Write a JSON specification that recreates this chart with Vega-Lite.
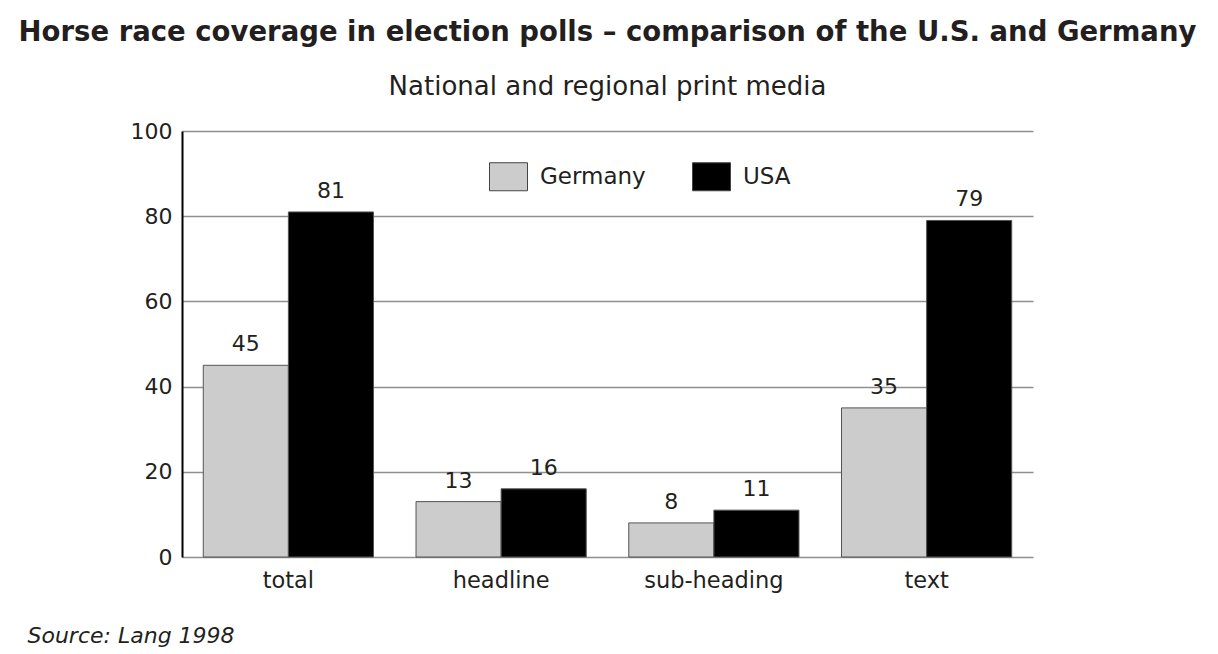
{
  "$schema": "https://vega.github.io/schema/vega-lite/v6.json",
  "width": 851,
  "height": 426,
  "autosize": {"type": "none"},
  "padding": {"left": 182, "top": 131, "right": 185, "bottom": 97},
  "background": "white",
  "title": {
    "text": "Horse race coverage in election polls – comparison of the U.S. and Germany",
    "subtitle": "National and regional print media",
    "anchor": "middle",
    "frame": "group",
    "font": "DejaVu Sans",
    "fontSize": 27.5,
    "fontWeight": "bold",
    "color": "#231f20",
    "subtitleFont": "DejaVu Sans",
    "subtitleFontSize": 26,
    "subtitleColor": "#231f20",
    "subtitlePadding": 28,
    "offset": 20
  },
  "data": {
    "values": [
      {"category": "total", "country": "Germany", "value": 45},
      {"category": "total", "country": "USA", "value": 81},
      {"category": "headline", "country": "Germany", "value": 13},
      {"category": "headline", "country": "USA", "value": 16},
      {"category": "sub-heading", "country": "Germany", "value": 8},
      {"category": "sub-heading", "country": "USA", "value": 11},
      {"category": "text", "country": "Germany", "value": 35},
      {"category": "text", "country": "USA", "value": 79}
    ]
  },
  "encoding": {
    "x": {
      "field": "category",
      "type": "nominal",
      "sort": ["total", "headline", "sub-heading", "text"],
      "scale": {"paddingInner": 0.2, "paddingOuter": 0.1},
      "axis": {
        "labelAngle": 0,
        "labelFont": "DejaVu Sans",
        "labelFontSize": 22.5,
        "labelColor": "#231f20",
        "labelPadding": 12,
        "ticks": false,
        "domain": false,
        "title": "Source: Lang 1998",
        "titleFont": "DejaVu Sans",
        "titleFontSize": 22,
        "titleFontStyle": "italic",
        "titleFontWeight": "normal",
        "titleColor": "#231f20",
        "titleAnchor": "start",
        "titleAlign": "left",
        "titleBaseline": "alphabetic",
        "titleX": -155,
        "titleY": 85
      }
    },
    "xOffset": {"field": "country", "type": "nominal", "sort": ["Germany", "USA"]},
    "y": {
      "field": "value",
      "type": "quantitative",
      "scale": {"domain": [0, 100], "nice": false},
      "axis": {
        "values": [0, 20, 40, 60, 80, 100],
        "title": null,
        "labelFont": "DejaVu Sans",
        "labelFontSize": 22,
        "labelColor": "#231f20",
        "labelPadding": 10,
        "ticks": false,
        "domainColor": "#000000",
        "domainWidth": 2,
        "grid": true,
        "gridColor": "#8f8f8f",
        "gridWidth": 1.5
      }
    }
  },
  "layer": [
    {
      "mark": {"type": "bar", "stroke": "#555555", "strokeWidth": 1},
      "encoding": {
        "color": {
          "field": "country",
          "type": "nominal",
          "scale": {"domain": ["Germany", "USA"], "range": ["#cccccc", "#000000"]},
          "legend": {
            "title": null,
            "orient": "none",
            "legendX": 307,
            "legendY": 26,
            "direction": "horizontal",
            "symbolType": "M-1,-0.737H1V0.737H-1Z",
            "symbolSize": 1444,
            "symbolStrokeColor": "#444444",
            "symbolStrokeWidth": 1,
            "labelFont": "DejaVu Sans",
            "labelFontSize": 23,
            "labelColor": "#231f20",
            "labelOffset": 12,
            "columnPadding": 44
          }
        }
      }
    },
    {
      "mark": {
        "type": "text",
        "baseline": "alphabetic",
        "dy": -14,
        "font": "DejaVu Sans",
        "fontSize": 22,
        "color": "#231f20"
      },
      "encoding": {"text": {"field": "value", "type": "quantitative"}}
    }
  ],
  "config": {"view": {"stroke": null}}
}
